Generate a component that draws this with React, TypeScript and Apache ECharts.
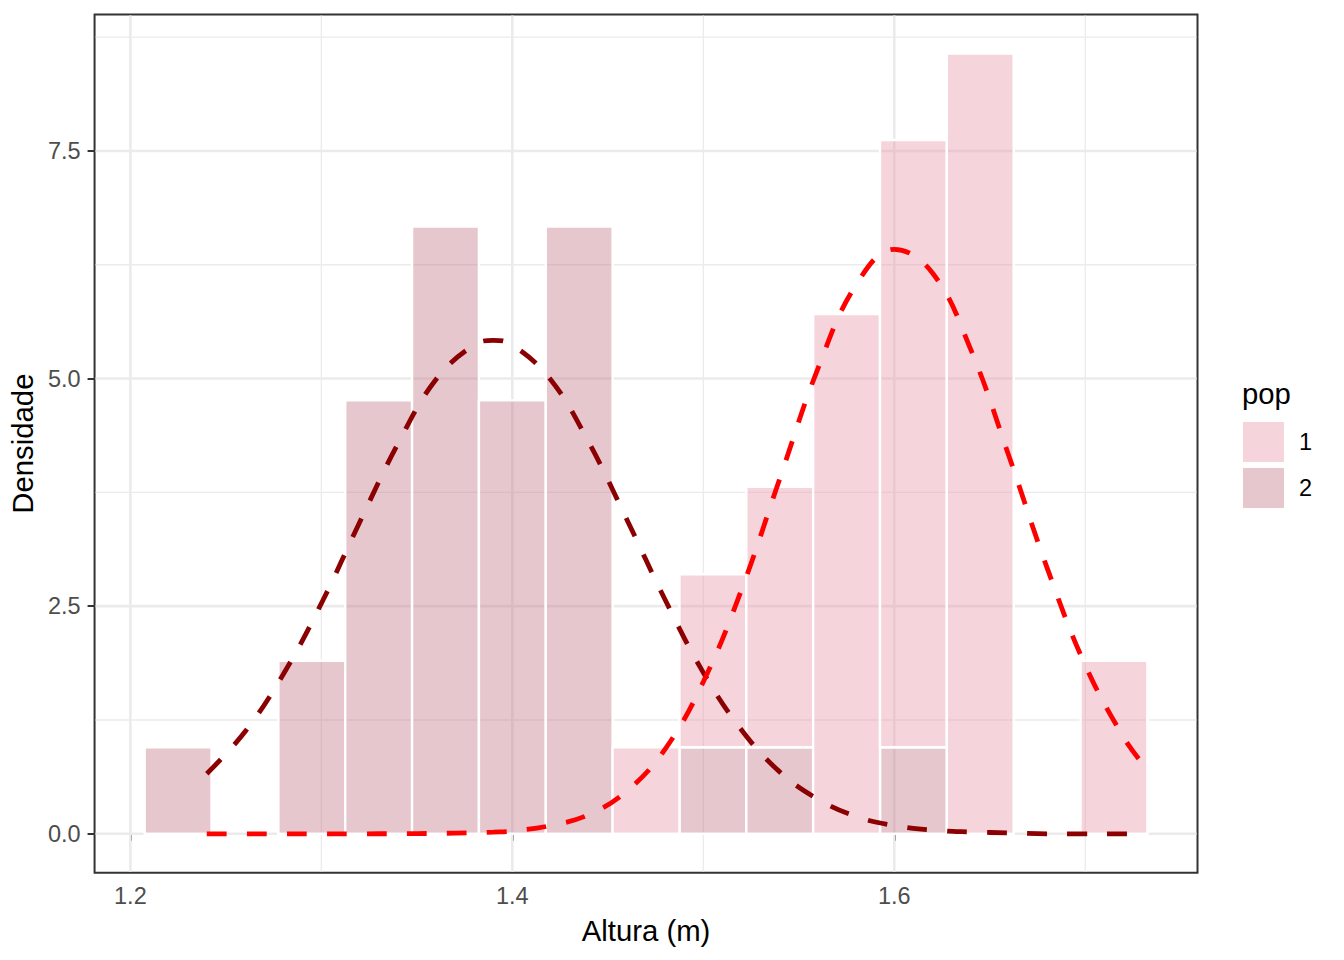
import React, { useEffect, useRef } from "react";
import * as echarts from "echarts";

// ---------- data ----------
const binStarts = [1.2075, 1.2425, 1.2775, 1.3125, 1.3475, 1.3825, 1.4175, 1.4525, 1.4875, 1.5225, 1.5575, 1.5925, 1.6275, 1.6625, 1.6975];
const binWidth = 0.035;
// densities per population (stacked: pop 2 at the bottom, pop 1 on top)
const pop2Density = [0.95, 0, 1.9, 4.76, 6.67, 4.76, 6.67, 0, 0.95, 0.95, 0, 0.95, 0, 0, 0];
const pop1Density = [0, 0, 0, 0, 0, 0, 0, 0.95, 1.9, 2.86, 5.71, 6.67, 8.57, 0, 1.9];

const curveX = [1.24, 1.26, 1.28, 1.30, 1.32, 1.34, 1.36, 1.38, 1.39, 1.40, 1.42, 1.44, 1.46, 1.48, 1.50, 1.52, 1.54, 1.56, 1.58, 1.60, 1.62, 1.64, 1.66, 1.68, 1.70, 1.72, 1.73];
const pop2Curve = [0.66, 1.12, 1.75, 2.53, 3.42, 4.28, 4.99, 5.37, 5.42, 5.37, 4.99, 4.30, 3.45, 2.57, 1.77, 1.14, 0.68, 0.38, 0.19, 0.09, 0.04, 0.02, 0.01, 0, 0, 0, 0];
const pop1Curve = [0, 0, 0, 0, 0, 0.001, 0.004, 0.012, 0.019, 0.03, 0.09, 0.21, 0.47, 0.93, 1.67, 2.68, 3.90, 5.11, 6.03, 6.42, 6.16, 5.32, 4.15, 2.92, 1.85, 1.06, 0.77];

const xMajorTicks = [1.2, 1.4, 1.6];
const xMinorTicks = [1.3, 1.5, 1.7];
const yMajorTicks = [0, 2.5, 5.0, 7.5];
const yMinorTicks = [1.25, 3.75, 6.25, 8.75];
const xMin = 1.18125;
const xMax = 1.75875;
const yMin = -0.4286;
const yMax = 9.0;

const legendNames = ["1", "2"];
const legendTitle = "pop";
const xTitle = "Altura (m)";
const yTitle = "Densidade";

// ---------- styles ----------
const FONT = "'Liberation Sans', Arial, sans-serif";
const POP1_FILL = "rgba(230, 148, 168, 0.4)";
const POP2_FILL = "rgba(193, 115, 133, 0.4)";
const GRID_COLOR = "#EBEBEB";

export default function App() {
  const ref = useRef<HTMLDivElement>(null);

  useEffect(() => {
    if (!ref.current) return;
    const chart = echarts.init(ref.current, undefined, { renderer: "svg" });

    const vGridData = [
      ...xMajorTicks.map((v) => [v, 4, 1]),
      ...xMinorTicks.map((v) => [v, 4, 0]),
    ];
    const hGridData = [
      ...yMajorTicks.map((v) => [1.5, v, 1]),
      ...yMinorTicks.map((v) => [1.5, v, 0]),
    ];

    const bars2 = binStarts
      .map((x0, i) => [x0, x0 + binWidth, 0, pop2Density[i]])
      .filter((d) => d[3] > d[2]);
    const bars1 = binStarts
      .map((x0, i) => [x0, x0 + binWidth, pop2Density[i], pop2Density[i] + pop1Density[i]])
      .filter((d) => d[3] > d[2]);

    const barRender = (fill: string) => (params: any, api: any) => {
      const p0 = api.coord([api.value(0), api.value(3)]);
      const p1 = api.coord([api.value(1), api.value(2)]);
      return {
        type: "rect",
        shape: { x: p0[0], y: p0[1], width: p1[0] - p0[0], height: p1[1] - p0[1] },
        style: { fill, stroke: "#FFFFFF", lineWidth: 2.4 },
      };
    };

    const option: any = {
      animation: false,
      backgroundColor: "#FFFFFF",
      grid: {
        left: 94.5,
        top: 14.4,
        width: 1103,
        height: 858.4,
        show: true,
        borderColor: "#333333",
        borderWidth: 2,
        backgroundColor: "transparent",
      },
      xAxis: {
        type: "value",
        min: xMin,
        max: xMax,
        axisLine: { show: false },
        splitLine: { show: false },
        axisTick: {
          show: true,
          customValues: xMajorTicks,
          length: 7,
          lineStyle: { color: "#333333", width: 2 },
        },
        axisLabel: {
          customValues: xMajorTicks,
          formatter: (v: number) => v.toFixed(1),
          color: "#4D4D4D",
          fontSize: 23.5,
          fontFamily: FONT,
          margin: 11,
        },
        name: xTitle,
        nameLocation: "middle",
        nameGap: 43,
        nameTextStyle: { fontSize: 29.3, color: "#000000", fontFamily: FONT },
      },
      yAxis: {
        type: "value",
        min: yMin,
        max: yMax,
        axisLine: { show: false },
        splitLine: { show: false },
        axisTick: {
          show: true,
          customValues: yMajorTicks,
          length: 7,
          lineStyle: { color: "#333333", width: 2 },
        },
        axisLabel: {
          customValues: yMajorTicks,
          formatter: (v: number) => v.toFixed(1),
          color: "#4D4D4D",
          fontSize: 23.5,
          fontFamily: FONT,
          margin: 14,
        },
        name: yTitle,
        nameLocation: "middle",
        nameGap: 48,
        nameRotate: 90,
        nameTextStyle: { fontSize: 29.3, color: "#000000", fontFamily: FONT },
      },
      legend: {
        orient: "vertical",
        left: 1243,
        top: 422,
        padding: 0,
        itemWidth: 41,
        itemHeight: 40,
        itemGap: 6,
        icon: "rect",
        selectedMode: false,
        data: legendNames,
        formatter: "{t|{name}}",
        textStyle: {
          rich: {
            t: { fontSize: 23.5, color: "#000000", fontFamily: FONT, padding: [0, 0, 0, 10] },
          },
        },
      },
      graphic: [
        {
          type: "text",
          left: 1242,
          top: 379,
          style: { text: legendTitle, fontSize: 29.3, fill: "#000000", fontFamily: FONT },
        },
      ],
      series: [
        {
          type: "custom",
          name: "vgrid",
          z: 1,
          silent: true,
          encode: { x: 0, y: 1 },
          data: vGridData,
          renderItem: (params: any, api: any) => {
            const cs = params.coordSys;
            const x = api.coord([api.value(0), 0])[0];
            return {
              type: "line",
              shape: { x1: x, y1: cs.y + 1, x2: x, y2: cs.y + cs.height - 1 },
              style: { stroke: GRID_COLOR, lineWidth: api.value(2) ? 2.6 : 1.3 },
            };
          },
        },
        {
          type: "custom",
          name: "hgrid",
          z: 1,
          silent: true,
          encode: { x: 0, y: 1 },
          data: hGridData,
          renderItem: (params: any, api: any) => {
            const cs = params.coordSys;
            const y = api.coord([1.5, api.value(1)])[1];
            return {
              type: "line",
              shape: { x1: cs.x + 1, y1: y, x2: cs.x + cs.width - 1, y2: y },
              style: { stroke: GRID_COLOR, lineWidth: api.value(2) ? 2.6 : 1.3 },
            };
          },
        },
        {
          type: "custom",
          name: "2",
          z: 2,
          itemStyle: { color: POP2_FILL },
          encode: { x: [0, 1], y: [2, 3] },
          data: bars2,
          renderItem: barRender(POP2_FILL),
        },
        {
          type: "custom",
          name: "1",
          z: 2,
          itemStyle: { color: POP1_FILL },
          encode: { x: [0, 1], y: [2, 3] },
          data: bars1,
          renderItem: barRender(POP1_FILL),
        },
        {
          type: "line",
          name: "dens2",
          z: 3,
          smooth: 0.4,
          showSymbol: false,
          symbol: "none",
          data: curveX.map((x, i) => [x, pop2Curve[i]]),
          lineStyle: { color: "#8B0000", width: 4.8, type: [20, 20], cap: "butt" },
        },
        {
          type: "line",
          name: "dens1",
          z: 3,
          smooth: 0.4,
          showSymbol: false,
          symbol: "none",
          data: curveX.map((x, i) => [x, pop1Curve[i]]),
          lineStyle: { color: "#FF0000", width: 4.8, type: [20, 20], cap: "butt" },
        },
      ],
    };

    chart.setOption(option);
    return () => chart.dispose();
  }, []);

  return (
    <div
      ref={ref}
      style={{ position: "fixed", left: 0, top: 0, width: 1344, height: 960, background: "#fff" }}
    />
  );
}
